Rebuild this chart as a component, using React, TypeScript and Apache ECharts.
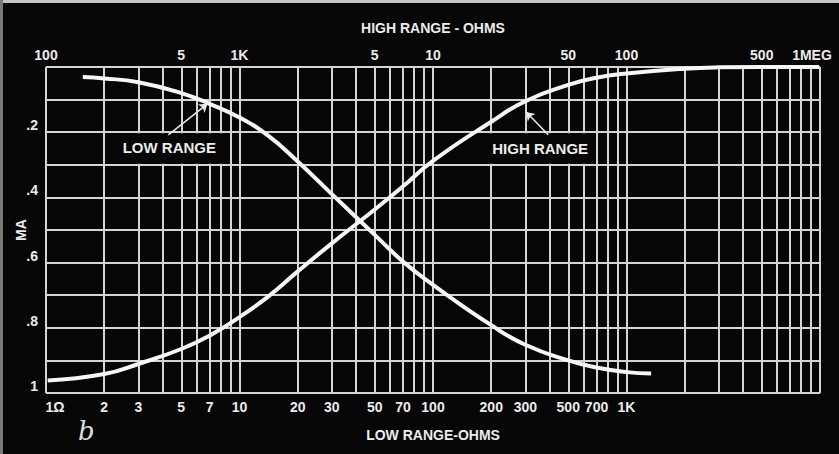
import React, { useEffect, useRef } from 'react';
import * as echarts from 'echarts';

// Low range curve (bottom axis, ohms) and High range curve (top axis, ohms)
const lowRangeOhms = [1.55, 2, 3, 5, 7, 10, 14, 20, 30, 50, 70, 100, 200, 300, 500, 700, 1000, 1340];
const lowRangeMA = [0.031, 0.035, 0.047, 0.08, 0.113, 0.155, 0.21, 0.29, 0.39, 0.515, 0.597, 0.668, 0.792, 0.852, 0.9, 0.922, 0.936, 0.94];
const highRangeOhms = [102, 200, 300, 500, 700, 1000, 1400, 2000, 3000, 5000, 7000, 10000, 20000, 30000, 50000, 70000, 100000, 200000, 300000, 500000, 990000];
const highRangeMA = [0.962, 0.942, 0.911, 0.865, 0.824, 0.767, 0.705, 0.627, 0.541, 0.437, 0.366, 0.288, 0.168, 0.105, 0.055, 0.033, 0.02, 0.005, 0.001, 0, 0];

// vertical grid rulings (bottom-axis ohms)
const gridOhms = [
  1, 2, 3, 4, 5, 6, 7, 8, 9,
  10, 20, 30, 40, 50, 60, 70, 80, 90,
  100, 200, 300, 400, 500, 600, 700, 800, 900,
  1000, 2000, 3000, 4000, 5000, 6000, 7000, 8000, 9000, 10000,
];
const lowTickValues = [1, 2, 3, 5, 7, 10, 20, 30, 50, 70, 100, 200, 300, 500, 700, 1000];
const lowTickLabels = ['1Ω', '2', '3', '5', '7', '10', '20', '30', '50', '70', '100', '200', '300', '500', '700', '1K'];
const highTickValues = [100, 500, 1000, 5000, 10000, 50000, 100000, 500000, 1000000];
const highTickLabels = ['100', '5', '1K', '5', '10', '50', '100', '500', '1MEG'];
const maTickValues = [0.2, 0.4, 0.6, 0.8, 1];
const maTickLabels = ['.2', '.4', '.6', '.8', '1'];

// annotations (data coordinates)
const lowBox = [[2.04, 0.203], [8.85, 0.297]];
const lowText = [4.34, 0.248];
const lowArrow = [[4.29, 0.208], [6.83, 0.113]];
const highBox = [[10200, 0.203], [68500, 0.297]];
const highText = [35800, 0.251];
const highArrow = [[39400, 0.208], [30300, 0.138]];

const FONT = 'Liberation Sans';
const TXT = '#ececec';
const GRIDC = '#d4d4d4';
const BG = '#060606';

export default function App() {
  const ref = useRef<HTMLDivElement>(null);
  useEffect(() => {
    if (!ref.current) return;
    const chart = echarts.init(ref.current, undefined, { renderer: 'svg' });
    const lbl = { color: TXT, fontFamily: FONT, fontWeight: 'bold' as const, fontSize: 14 };

    const gridLineData = gridOhms.map((v) => {
      const i = lowTickValues.indexOf(v);
      return {
        xAxis: v,
        label: i >= 0
          ? {
              show: true, formatter: lowTickLabels[i], position: 'end', distance: 7, ...lbl,
              padding: i === 0 ? [0, 0, 0, 18] : 0,
            }
          : { show: false },
      };
    });
    const topLabelData = highTickValues.map((v, i) => ({
      xAxis: v,
      label: {
        show: true, formatter: highTickLabels[i], position: 'start', distance: 5, ...lbl,
        padding: i === highTickValues.length - 1 ? [0, 16, 0, 0] : 0,
      },
    }));

    chart.setOption({
      animation: false,
      backgroundColor: BG,
      grid: { left: 46, right: 19, top: 67, bottom: 61, containLabel: false, outerBoundsMode: 'none' },
      xAxis: [
        {
          type: 'log', logBase: 10, min: 1, max: 10000, position: 'bottom',
          name: 'LOW RANGE-OHMS', nameLocation: 'middle', nameGap: 35, nameMoveOverlap: false,
          nameTextStyle: { ...lbl },
          axisLine: { show: false }, axisTick: { show: false }, axisLabel: { show: false },
          splitLine: { show: false }, minorSplitLine: { show: false },
        },
        {
          type: 'log', logBase: 10, min: 100, max: 1000000, position: 'top',
          name: 'HIGH RANGE - OHMS', nameLocation: 'middle', nameGap: 32, nameMoveOverlap: false,
          nameTextStyle: { ...lbl },
          axisLine: { show: false }, axisTick: { show: false }, axisLabel: { show: false },
          splitLine: { show: false },
        },
      ],
      yAxis: {
        type: 'value', min: 0, max: 1, interval: 0.1, inverse: true,
        name: 'MA', nameLocation: 'middle', nameGap: 18, nameRotate: 90, nameMoveOverlap: false,
        nameTextStyle: { ...lbl },
        axisLine: { show: false }, axisTick: { show: false },
        axisLabel: {
          ...lbl, margin: 8, verticalAlign: 'bottom',
          formatter: (v: number) => {
            const i = maTickValues.findIndex((t) => Math.abs(t - v) < 1e-6);
            return i >= 0 ? maTickLabels[i] : '';
          },
        },
        splitLine: { show: true, lineStyle: { color: GRIDC, width: 2 } },
      },
      graphic: [
        { type: 'rect', shape: { x: 0, y: 0, width: 839, height: 3 }, style: { fill: '#c4c4c4' }, silent: true },
        { type: 'rect', shape: { x: 0, y: 0, width: 3, height: 454 }, style: { fill: '#7a7a7a' }, silent: true },
        {
          type: 'text', left: 78, top: 418, silent: true,
          style: { text: 'b', fill: '#dedede', font: 'italic 26px "DejaVu Serif"' },
        },
      ],
      series: [
        {
          name: 'grid', type: 'line', xAxisIndex: 0, yAxisIndex: 0, data: [], silent: true,
          markLine: {
            z: 1, silent: true, symbol: ['none', 'none'], animation: false,
            lineStyle: { color: GRIDC, width: 2, type: 'solid' },
            emphasis: { disabled: true },
            data: gridLineData,
          },
        },
        {
          name: 'topLabels', type: 'line', xAxisIndex: 1, yAxisIndex: 0, data: [], silent: true,
          markLine: {
            z: 1, silent: true, symbol: ['none', 'none'], animation: false,
            lineStyle: { color: GRIDC, width: 2, type: 'solid' },
            emphasis: { disabled: true },
            data: topLabelData,
          },
        },
        {
          name: 'LOW RANGE', type: 'line', xAxisIndex: 0, yAxisIndex: 0, z: 3,
          data: lowRangeOhms.map((x, i) => [x, lowRangeMA[i]]),
          smooth: 0.5, showSymbol: false, symbol: 'none', silent: true,
          lineStyle: { color: '#f6f6f6', width: 4 },
          markArea: {
            z: 2, silent: true, itemStyle: { color: BG },
            data: [[{ coord: lowBox[0] }, { coord: lowBox[1] }]],
          },
          markLine: {
            z: 4, silent: true, symbol: ['none', 'arrow'], symbolSize: 8,
            lineStyle: { color: TXT, width: 1.5, type: 'solid' }, label: { show: false },
            data: [[{ coord: lowArrow[0] }, { coord: lowArrow[1] }]],
          },
          markPoint: {
            z: 4, silent: true, symbol: 'rect', symbolSize: 1, itemStyle: { color: 'rgba(0,0,0,0)' },
            label: { show: true, position: 'inside', ...lbl, fontSize: 15 },
            data: [{ coord: lowText, label: { formatter: 'LOW RANGE' } }],
          },
        },
        {
          name: 'HIGH RANGE', type: 'line', xAxisIndex: 1, yAxisIndex: 0, z: 3,
          data: highRangeOhms.map((x, i) => [x, highRangeMA[i]]),
          smooth: 0.5, showSymbol: false, symbol: 'none', silent: true,
          lineStyle: { color: '#f6f6f6', width: 4 },
          markArea: {
            z: 2, silent: true, itemStyle: { color: BG },
            data: [[{ coord: highBox[0] }, { coord: highBox[1] }]],
          },
          markLine: {
            z: 4, silent: true, symbol: ['none', 'arrow'], symbolSize: 8,
            lineStyle: { color: TXT, width: 1.5, type: 'solid' }, label: { show: false },
            data: [[{ coord: highArrow[0] }, { coord: highArrow[1] }]],
          },
          markPoint: {
            z: 4, silent: true, symbol: 'rect', symbolSize: 1, itemStyle: { color: 'rgba(0,0,0,0)' },
            label: { show: true, position: 'inside', ...lbl, fontSize: 15 },
            data: [{ coord: highText, label: { formatter: 'HIGH RANGE' } }],
          },
        },
      ],
    });
    return () => chart.dispose();
  }, []);
  return (
    <div
      ref={ref}
      style={{ position: 'absolute', left: 0, top: 0, width: 839, height: 454, background: BG }}
    />
  );
}
